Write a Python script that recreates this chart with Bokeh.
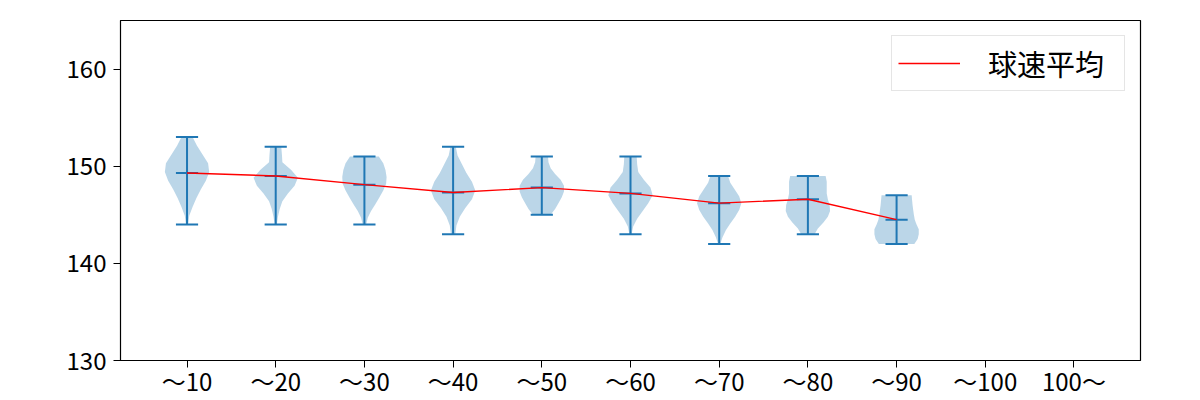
from bokeh.plotting import figure
from bokeh.models import ColumnDataSource, Range1d, FixedTicker, Legend, LegendItem
from bokeh.embed import file_html
from bokeh.resources import INLINE

# ---- data ----
categories = ["〜10", "〜20", "〜30", "〜40", "〜50", "〜60", "〜70", "〜80", "〜90", "〜100", "100〜"]
positions = [1, 2, 3, 4, 5, 6, 7, 8, 9, 10, 11]

speed_min = [144, 144, 144, 143, 145, 143, 142, 143, 142]
speed_max = [153, 152, 151, 152, 151, 151, 149, 149, 147]
speed_mean = [149.3, 149.0, 148.1, 147.3, 147.8, 147.2, 146.2, 146.6, 144.5]

# relative violin widths, evenly spaced from min (first) to max (last)
density_1 = [0.05, 0.10, 0.25, 0.42, 0.62, 0.85, 1.00, 0.95, 0.70, 0.45, 0.25]
density_2 = [0.05, 0.10, 0.18, 0.30, 0.55, 0.85, 1.00, 0.70, 0.30, 0.28, 0.25]
density_3 = [0.08, 0.15, 0.30, 0.50, 0.68, 0.85, 0.98, 1.00, 0.95, 0.85, 0.65]
density_4 = [0.10, 0.15, 0.30, 0.55, 0.85, 1.00, 0.85, 0.60, 0.40, 0.20, 0.12]
density_5 = [0.40, 0.60, 0.75, 0.90, 1.00, 1.00, 0.85, 0.60, 0.40, 0.30, 0.28]
density_6 = [0.05, 0.12, 0.30, 0.55, 0.80, 1.00, 0.90, 0.60, 0.35, 0.30, 0.28]
density_7 = [0.05, 0.15, 0.30, 0.50, 0.72, 0.90, 1.00, 0.90, 0.70, 0.50, 0.40]
density_8 = [0.30, 0.45, 0.70, 0.90, 1.00, 0.98, 0.90, 0.85, 0.85, 0.85, 0.80]
density_9 = [0.80, 0.95, 1.00, 1.00, 0.90, 0.82, 0.78, 0.75, 0.72, 0.70, 0.68]
densities = [density_1, density_2, density_3, density_4, density_5,
             density_6, density_7, density_8, density_9]

BLUE = "#1f77b4"
FONT = "Noto Sans CJK JP"
HALF = 0.25   # max half width of violin
CAP = 0.125   # half length of cap lines

p = figure(width=1200, height=400, output_backend="svg", toolbar_location=None,
           x_range=Range1d(0.25, 11.75), y_range=Range1d(130, 165),
           min_border_left=120, min_border_right=60, min_border_top=20,
           min_border_bottom=40)
p.grid.visible = False
p.outline_line_color = "black"
p.outline_line_width = 1.2
p.background_fill_color = "white"
p.border_fill_color = "white"

# violin bodies
xs, ys = [], []
for i, dens in enumerate(densities):
    pos = positions[i]
    lo, hi = speed_min[i], speed_max[i]
    n = len(dens)
    vals = [lo + (hi - lo) * k / (n - 1) for k in range(n)]
    left = [pos - HALF * d for d in dens]
    right = [pos + HALF * d for d in dens]
    xs.append(left + right[::-1])
    ys.append(vals + vals[::-1])
p.patches(xs, ys, fill_color=BLUE, fill_alpha=0.3, line_color=None)

n9 = len(speed_min)
pos9 = positions[:n9]
# vertical bars
p.segment(x0=pos9, y0=speed_min, x1=pos9, y1=speed_max, line_color=BLUE, line_width=2)
# caps and mean lines
for arr in (speed_min, speed_max, speed_mean):
    p.segment(x0=[x - CAP for x in pos9], y0=arr, x1=[x + CAP for x in pos9], y1=arr,
              line_color=BLUE, line_width=2)

# mean line
r = p.line(pos9, speed_mean, line_color="red", line_width=1.4)

legend = Legend(items=[LegendItem(label="球速平均", renderers=[r])],
                location="top_right", margin=15, padding=6,
                glyph_width=62, label_standoff=28, label_width=130,
                label_text_font=FONT, label_text_font_size="29px",
                label_text_color="black",
                border_line_color="#cccccc", border_line_width=1,
                background_fill_alpha=1.0)
p.add_layout(legend)

# axes
p.xaxis.ticker = FixedTicker(ticks=positions)
p.xaxis.major_label_overrides = {pos: lab for pos, lab in zip(positions, categories)}
p.yaxis.ticker = FixedTicker(ticks=[130, 140, 150, 160])
for ax in (p.xaxis, p.yaxis):
    ax.major_label_text_font = FONT
    ax.major_label_text_font_size = "24px"
    ax.major_label_text_color = "black"
    ax.axis_line_color = "black"
    ax.major_tick_line_color = "black"
    ax.major_tick_out = 7
    ax.major_tick_in = 0
    ax.minor_tick_line_color = None
p.xaxis.major_label_standoff = -5
p.yaxis.major_label_standoff = 7

open("out.html", "w").write(file_html(p, INLINE))
